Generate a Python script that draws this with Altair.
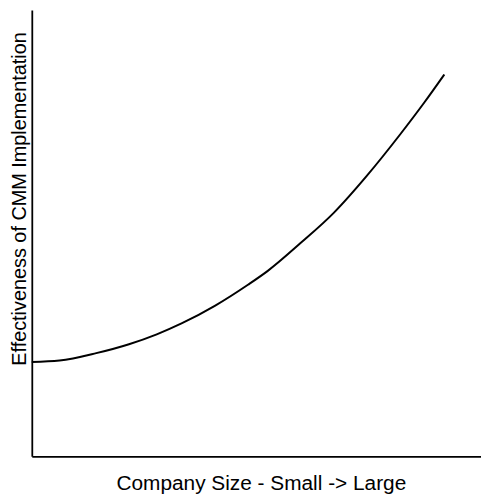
import altair as alt
import pandas as pd

# Curve (x: company size, y: effectiveness), arbitrary units
size = [0, 28, 65, 98, 126, 151, 185, 218, 238, 271, 305, 338, 371, 396, 416]
effect = [95, 96.5, 104, 113, 123, 134, 152, 173, 187, 215, 246, 283, 324, 357, 385]

df = pd.DataFrame({"size": size, "effect": effect})

x_title = "Company Size - Small -> Large"
y_title = "Effectiveness of CMM Implementation"

chart = (
    alt.Chart(df)
    .mark_line(color="black", strokeWidth=2, interpolate="monotone")
    .encode(
        x=alt.X(
            "size:Q",
            scale=alt.Scale(domain=[0, 453], nice=False, zero=False),
            axis=alt.Axis(
                title=x_title, labels=False, ticks=False, grid=False,
                domainColor="black", domainWidth=1.8, titlePadding=17,
                titleFontSize=21, titleFontWeight="normal", titleColor="black",
                titleFont="Liberation Sans", titleX=231,
            ),
        ),
        y=alt.Y(
            "effect:Q",
            scale=alt.Scale(domain=[0, 450], nice=False, zero=False),
            axis=alt.Axis(
                title=y_title, labels=False, ticks=False, grid=False,
                domainColor="black", domainWidth=1.8, titlePadding=2,
                titleFontSize=20, titleFontWeight="normal", titleColor="black",
                titleFont="Liberation Sans", titleY=190,
            ),
        ),
    )
    .properties(width=453, height=450,
                padding={"left": 2, "top": 0, "right": 0, "bottom": 0})
    .configure_view(stroke=None)
)

chart.save("out.html", embed_options={"renderer": "svg", "actions": False})
